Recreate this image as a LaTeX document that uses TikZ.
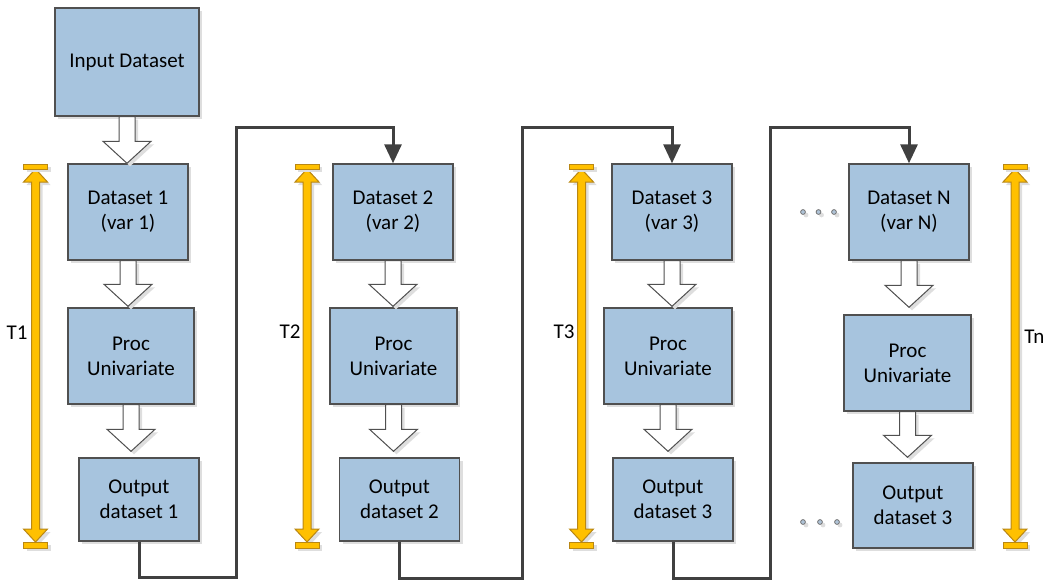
\documentclass[tikz,border=0pt]{standalone}
\usepackage{fontspec}
\setmainfont{Carlito}
\usetikzlibrary{positioning, arrows.meta, calc, shadows}
\definecolor{boxFill}{RGB}{167, 196, 222}
\definecolor{boxLine}{RGB}{80, 80, 80}
\definecolor{flowLine}{RGB}{64, 64, 64}
\definecolor{spanFill}{RGB}{255, 192, 0}
\definecolor{spanLine}{RGB}{185, 135, 20}
\definecolor{dotFill}{RGB}{175, 195, 215}
\tikzset{
    soft_shadow/.style={
        drop shadow={shadow xshift=1.5pt, shadow yshift=-1.5pt, fill=black!13, opacity=1}
    },
    data_box/.style={
        rectangle,
        draw=boxLine,
        line width=0.7pt,
        fill=boxFill,
        soft_shadow,
        align=center,
        font=\fontsize{10.5}{12.5}\selectfont,
        minimum width=60pt,
        minimum height=48pt,
        inner sep=0pt
    },
    flow_edge/.style={
        -{Triangle[width=8.5pt, length=9.5pt]},
        line width=1.5pt,
        draw=flowLine
    },
    hollow_arrow/.style={
        draw=boxLine,
        line width=0.5pt,
        fill=white,
        soft_shadow
    },
    span_arrow/.style={
        draw=spanLine,
        line width=0.5pt,
        fill=spanFill,
        soft_shadow
    },
    span_label/.style={
        font=\fontsize{10.5}{12.5}\selectfont,
        inner sep=0pt
    },
    dot/.style={
        circle,
        draw=boxLine!80,
        line width=0.4pt,
        fill=dotFill,
        minimum size=2.4pt,
        inner sep=0pt,
        soft_shadow
    }
}
% block arrow from one box down to the next, #1 = gap above the lower box
\newcommand{\hollowarrow}[3][0]{%
    \coordinate (tip) at ($(#2.south |- #3.north)+(0,-#1)$);
    \draw[hollow_arrow] ($(#2.south)+(-8,0)$) -- ($(tip)+(-8,-22)$) -- ($(tip)+(-24,-22)$)
        -- (tip) -- ($(tip)+(24,-22)$) -- ($(tip)+(8,-22)$) -- ($(#2.south)+(8,0)$) -- cycle;
}
% yellow time span between two coordinates
\newcommand{\spanarrow}[2]{%
    \draw[span_arrow] ($(#1)+(0,5)$) -- ($(#1)+(12,18)$) -- ($(#1)+(4,18)$) -- ($(#2)+(4,-19)$)
        -- ($(#2)+(12,-19)$) -- ($(#2)+(0,-6)$) -- ($(#2)+(-12,-19)$) -- ($(#2)+(-4,-19)$)
        -- ($(#1)+(-4,18)$) -- ($(#1)+(-12,18)$) -- cycle;
    \draw[span_arrow] ($(#1)+(-12,0)$) rectangle ($(#1)+(12,5)$);
    \draw[span_arrow] ($(#2)+(-12,-6)$) rectangle ($(#2)+(12,0)$);
}

\begin{document}
\begin{tikzpicture}[x=0.5pt, y=-0.5pt]
    \useasboundingbox (0,0) rectangle (1049,580);

    \node[data_box, minimum width=72pt, minimum height=54pt] (in) at (127,62) {Input Dataset};

    \node[data_box] (d1) at (128,212) {Dataset 1\\(var 1)};
    \node[data_box, minimum width=63pt] (p1) at (131,356) {Proc\\Univariate};
    \node[data_box, minimum height=41.5pt] (o1) at (139,499.5) {Output\\dataset 1};

    \node[data_box] (d2) at (393,212) {Dataset 2\\(var 2)};
    \node[data_box, minimum width=63.5pt] (p2) at (393.5,356) {Proc\\Univariate};
    \node[data_box, minimum height=41.5pt] (o2) at (399.5,499.5) {Output\\dataset 2};

    \node[data_box] (d3) at (672,212) {Dataset 3\\(var 3)};
    \node[data_box, minimum width=64pt] (p3) at (668,356) {Proc\\Univariate};
    \node[data_box, minimum height=41.5pt] (o3) at (673,499.5) {Output\\dataset 3};

    \node[data_box] (dN) at (909,212) {Dataset N\\(var N)};
    \node[data_box, minimum width=63.5pt] (pN) at (907.5,363) {Proc\\Univariate};
    \node[data_box, minimum height=42.5pt] (oN) at (913,505.5) {Output\\dataset 3};

    \hollowarrow{in}{d1}
    \hollowarrow[1]{d1}{p1}
    \hollowarrow[6]{p1}{o1}
    \hollowarrow[1]{d2}{p2}
    \hollowarrow[6]{p2}{o2}
    \hollowarrow[1]{d3}{p3}
    \hollowarrow[6]{p3}{o3}
    \hollowarrow[7]{dN}{pN}
    \hollowarrow[5]{pN}{oN}

    \draw[flow_edge] (o1.south) -- ++(0,36) -| (236,127) -| (d2.north);
    \draw[flow_edge] (o2.south) -- ++(0,37) -| (522,127) -| (d3.north);
    \draw[flow_edge] (o3.south) -- ++(0,37) -| (770,127) -| (dN.north);

    \coordinate (t1_top) at (35.5,164);
    \coordinate (t1_bot) at (35.5,548);
    \coordinate (t2_top) at (307,164);
    \coordinate (t2_bot) at (307,548);
    \coordinate (t3_top) at (581.5,164);
    \coordinate (t3_bot) at (581.5,548);
    \coordinate (tn_top) at (1015,164);
    \coordinate (tn_bot) at (1015,548);
    \spanarrow{t1_top}{t1_bot}
    \spanarrow{t2_top}{t2_bot}
    \spanarrow{t3_top}{t3_bot}
    \spanarrow{tn_top}{tn_bot}

    \node[span_label, anchor=east] (t1) at (28,333) {T1};
    \node[span_label, anchor=east] (t2) at (301,332) {T2};
    \node[span_label, anchor=east] (t3) at (575,332) {T3};
    \node[span_label, anchor=west] (tn) at (1024,337) {Tn};

    % dots for the skipped runs
    \node[dot] (da1) at (803,212) {};
    \node[dot] (da2) at (818.5,212) {};
    \node[dot] (da3) at (834,212) {};
    \node[dot] (db1) at (803,522) {};
    \node[dot] (db2) at (820,522) {};
    \node[dot] (db3) at (837,522) {};
\end{tikzpicture}
\end{document}
